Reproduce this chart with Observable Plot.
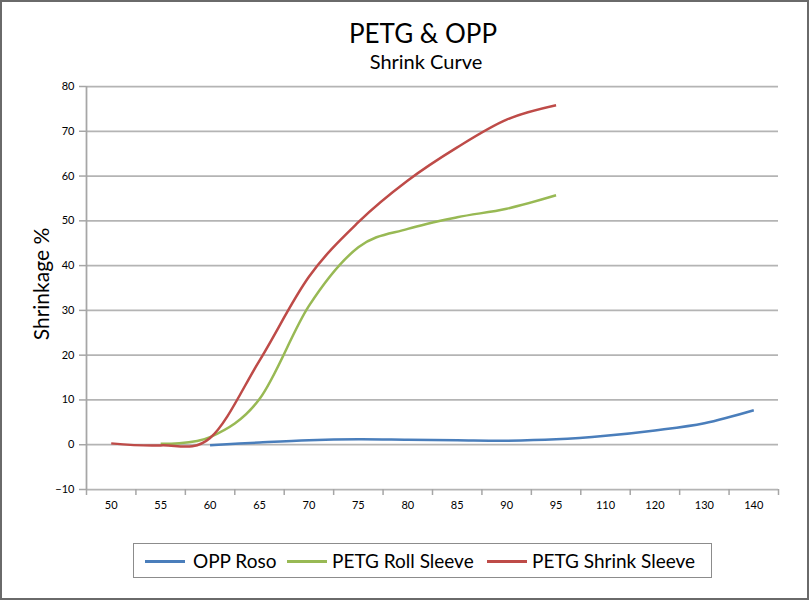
<!DOCTYPE html>
<html>
<head>
<meta charset="utf-8">
<script src="https://cdn.jsdelivr.net/npm/d3@7"></script>
<script src="https://cdn.jsdelivr.net/npm/@observablehq/plot@0.6"></script>
<style>
  html, body { margin: 0; padding: 0; background: #fff; }
  #wrap { position: relative; width: 809px; height: 600px; background: #fff; font-family: Lato, "Open Sans", sans-serif; color: #000; overflow: hidden; }
  #border { position: absolute; left: 0; top: 0; width: 809px; height: 600px; box-sizing: border-box; border: 2px solid #6a6a6a; pointer-events: none; z-index: 5; }
  .t { position: absolute; white-space: nowrap; line-height: 1; }
  #chart { position: absolute; left: 0; top: 70px; }
  #legend { position: absolute; left: 133px; top: 543px; width: 579px; height: 35px; box-sizing: border-box; border: 1.5px solid #8c8c8c; background: #fff; }
  .sw { position: absolute; height: 3px; top: 16px; }
  .lt { position: absolute; font-size: 19px; line-height: 19px; top: 7px; white-space: nowrap; }
</style>
</head>
<body>
<div id="wrap">
  <div class="t" id="title" style="font-size:26px; left:423px; top:20px; transform:translateX(-50%);">PETG &amp; OPP</div>
  <div class="t" id="subtitle" style="font-size:20px; left:426px; top:51px; transform:translateX(-50%);">Shrink Curve</div>
  <div id="chart"></div>
  <div id="legend"></div>
  <div id="border"></div>
</div>
<script>
const categories = ["50","55","60","65","70","75","80","85","90","95","110","120","130","140"];
const oppRoso    = [null, null, -0.1, 0.5, 1.0, 1.2, 1.1, 1.0, 0.9, 1.2, 2.0, 3.2, 4.8, 7.7];
const petgRoll   = [null, 0.2, 1.7, 10.2, 31.0, 44.1, 48.2, 50.8, 52.7, 55.7, null, null, null, null];
const petgShrink = [0.3, -0.15, 1.5, 18.8, 37.5, 49.7, 59.0, 66.4, 72.6, 75.8, null, null, null, null];
const seriesNames = ["OPP Roso", "PETG Roll Sleeve", "PETG Shrink Sleeve"];
const seriesColors = ["#4a7ebb", "#98b954", "#be4b48"];
const yTicks = [-10, 0, 10, 20, 30, 40, 50, 60, 70, 80];

const seriesValues = [oppRoso, petgRoll, petgShrink];
const rows = seriesNames.flatMap((name, s) =>
  seriesValues[s].map((v, i) => ({series: name, pos: i + 0.5, value: v})).filter(d => d.value != null)
);
const boundaries = d3.range(categories.length + 1);
const centers = categories.map((c, i) => i + 0.5);
const gray = "#a6a6a6";

const chart = Plot.plot({
  width: 809,
  height: 450,
  marginLeft: 86,
  marginRight: 31,
  marginTop: 16,
  marginBottom: 31,
  style: {fontFamily: "Lato, 'Open Sans', sans-serif", background: "transparent"},
  x: {type: "linear", domain: [0, categories.length]},
  y: {domain: [-10, 80]},
  color: {domain: seriesNames, range: seriesColors},
  marks: [
    Plot.gridY(yTicks, {stroke: "#b4b4b4", strokeOpacity: 1, strokeWidth: 1.75}),
    Plot.ruleX([0], {stroke: gray, strokeWidth: 1.75}),
    Plot.axisY(yTicks, {tickSize: 7, tickPadding: 5, fontSize: 11, stroke: gray, strokeWidth: 1.5, fill: "#000", label: null}),
    Plot.axisX(boundaries, {tickSize: 6, tickFormat: () => "", stroke: gray, strokeWidth: 1.5, label: null}),
    Plot.axisX(centers, {tickSize: 0, tickPadding: 12, fontSize: 11, fill: "#000", tickFormat: d => categories[Math.floor(d)], label: null}),
    Plot.text(["Shrinkage %"], {frameAnchor: "left", textAnchor: "middle", text: d => d, rotate: -90, dx: -44, dy: -4, fontSize: 21, fill: "#000"}),
    Plot.line(rows, {x: "pos", y: "value", z: "series", stroke: "series", strokeWidth: 2.5, curve: "cardinal", strokeLinecap: "butt"})
  ]
});
document.getElementById("chart").appendChild(chart);

// legend
const legend = document.getElementById("legend");
const swatchX = [11, 153, 353];
const textX = [59, 198, 398];
seriesNames.forEach((name, i) => {
  const sw = document.createElement("div");
  sw.className = "sw";
  sw.style.left = swatchX[i] + "px";
  sw.style.width = "40px";
  sw.style.background = seriesColors[i];
  legend.appendChild(sw);
  const t = document.createElement("div");
  t.className = "lt";
  t.style.left = textX[i] + "px";
  t.textContent = name;
  legend.appendChild(t);
});
</script>
</body>
</html>
